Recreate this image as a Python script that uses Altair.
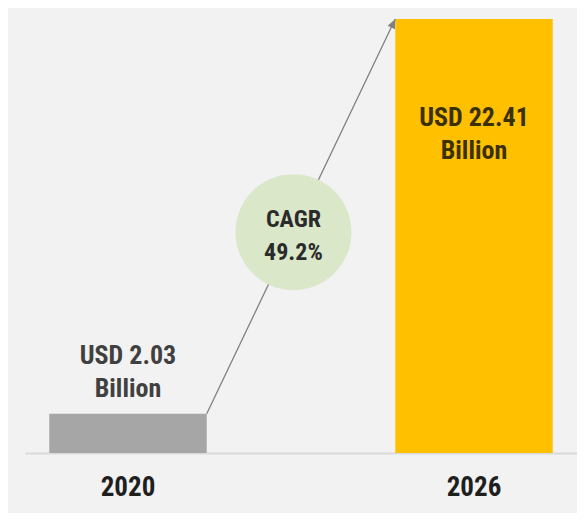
import altair as alt
import pandas as pd

# ---- data ----
years = ["2020", "2026"]
market_size = [2.03, 22.41]          # USD billion
value_labels = [["USD 2.03", "Billion"], ["USD 22.41", "Billion"]]
cagr_label = ["CAGR", "49.2%"]

FONT = "Roboto Condensed, Archivo Narrow, PT Sans Narrow, Liberation Sans Narrow, Roboto, sans-serif"
PLOT_W, PLOT_H = 552, 434
PAD_INNER = 0.545
PAD_OUTER = 0.0702

bars_df = pd.DataFrame({"year": years, "value": market_size})
label_df = pd.DataFrame({"year": years, "value": market_size, "label": value_labels})
arrow_df = pd.DataFrame({"from": [years[0]], "to": [years[1]],
                         "v0": [market_size[0]], "v1": [market_size[1]]})

# CAGR badge sits on the arrow, a little below its midpoint
t = 0.46
step = PLOT_W / (len(years) - PAD_INNER + 2 * PAD_OUTER)
badge_dx = t * step * PAD_INNER
badge_df = pd.DataFrame({"year": [years[0]],
                         "value": [market_size[0] + t * (market_size[1] - market_size[0])],
                         "label": [cagr_label]})

xscale = alt.Scale(domain=years, paddingInner=PAD_INNER, paddingOuter=PAD_OUTER)
yscale = alt.Scale(domain=[0, market_size[1]], nice=False, zero=True)

bars = alt.Chart(bars_df).mark_bar().encode(
    x=alt.X("year:N", scale=xscale, title=None),
    y=alt.Y("value:Q", scale=yscale, axis=None),
    color=alt.Color("year:N", scale=alt.Scale(domain=years, range=["#a6a6a6", "#ffc000"]), legend=None),
)

arrow = alt.Chart(arrow_df).mark_rule(color="#808080", strokeWidth=1.3).encode(
    x=alt.X("from:N", scale=xscale, bandPosition=1, title=None),
    x2=alt.X2("to:N", bandPosition=0),
    y=alt.Y("v0:Q", scale=yscale, axis=None),
    y2="v1:Q",
)

arrow_head = alt.Chart(arrow_df).mark_point(
    shape="M0,0L-0.6,1.4L0.6,1.4Z", size=180, angle=25, filled=True,
    color="#808080", opacity=1,
).encode(
    x=alt.X("to:N", scale=xscale, bandPosition=0, title=None),
    y=alt.Y("v1:Q", scale=yscale, axis=None),
)

badge = alt.Chart(badge_df).mark_point(
    shape="circle", size=13456, filled=True, color="#dbe7c9", opacity=1,
    xOffset=badge_dx,
).encode(
    x=alt.X("year:N", scale=xscale, bandPosition=1, title=None),
    y=alt.Y("value:Q", scale=yscale, axis=None),
)

badge_text = alt.Chart(badge_df).mark_text(
    font=FONT, fontSize=24, fontWeight="bold", color="#2b2b2b",
    baseline="alphabetic", lineHeight=33, dy=-5, dx=badge_dx,
).encode(
    x=alt.X("year:N", scale=xscale, bandPosition=1, title=None),
    y=alt.Y("value:Q", scale=yscale, axis=None),
    text="label",
)

label_small = alt.Chart(label_df.iloc[[0]]).mark_text(
    font=FONT, fontSize=26, fontWeight="bold", color="#404040",
    baseline="alphabetic", lineHeight=33, dy=-50,
).encode(
    x=alt.X("year:N", scale=xscale, title=None),
    y=alt.Y("value:Q", scale=yscale, axis=None),
    text="label",
)

label_big = alt.Chart(label_df.iloc[[1]]).mark_text(
    font=FONT, fontSize=26, fontWeight="bold", color="#3a3000",
    baseline="alphabetic", lineHeight=33, dy=107,
).encode(
    x=alt.X("year:N", scale=xscale, title=None),
    y=alt.Y("value:Q", scale=yscale, axis=None),
    text="label",
)

chart = alt.layer(
    bars, arrow, arrow_head, badge, badge_text, label_small, label_big
).properties(
    width=PLOT_W, height=PLOT_H,
    padding={"left": 17, "top": 11, "right": 0, "bottom": 60},
    autosize="none",
    background="#f2f2f2",
).configure_view(
    stroke=None,
).configure_axisX(
    domainColor="#d9d9d9", domainWidth=2, ticks=False, grid=False,
    labelFont=FONT, labelFontSize=27, labelFontWeight="bold",
    labelColor="#1f1f1f", labelPadding=21, labelAngle=0,
)

chart.save("out.html", embed_options={"renderer": "svg", "actions": False})
